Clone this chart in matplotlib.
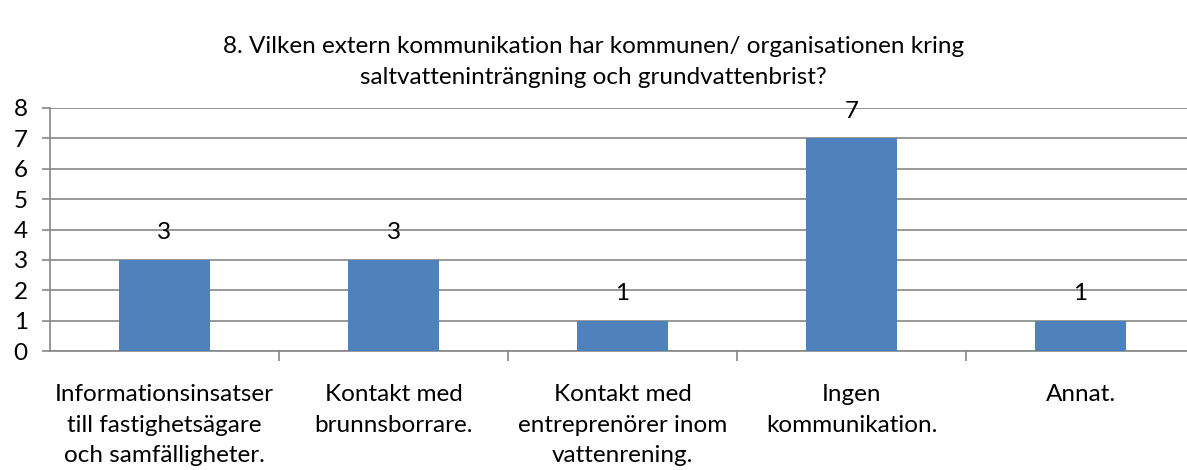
import matplotlib
matplotlib.use("Agg")
import matplotlib.pyplot as plt

categories = ["Informationsinsatser\ntill fastighetsägare\noch samfälligheter.",
              "Kontakt med\nbrunnsborrare.",
              "Kontakt med\nentreprenörer inom\nvattenrening.",
              "Ingen\nkommunikation.",
              "Annat."]
values = [3, 3, 1, 7, 1]
yticks = [0, 1, 2, 3, 4, 5, 6, 7, 8]
title = "8. Vilken extern kommunikation har kommunen/ organisationen kring\nsaltvatteninträngning och grundvattenbrist?"

plt.rcParams['font.family'] = ['Lato', 'DejaVu Sans']
FS = 17.5
W, H = 1187, 470
fig = plt.figure(figsize=(W / 100, H / 100), dpi=100)
left, right, top, bottom = 50, 1195, 108, 351
ax = fig.add_axes([left / W, 1 - bottom / H, (right - left) / W, (bottom - top) / H])

x = list(range(len(values)))
ax.bar(x, values, width=0.4, color="#4F81BD", zorder=3)
ax.set_xlim(-0.5, len(values) - 0.5)
ax.set_ylim(0, 8)
ax.set_yticks(yticks)
ax.set_yticklabels([str(v) for v in yticks], fontsize=FS)
ax.yaxis.grid(True, color="#868686", linewidth=1.2, zorder=0)
ax.tick_params(axis='y', length=6, color="#868686", width=1.2, pad=10)
ax.set_xticks([i + 0.5 for i in x[:-1]])
ax.set_xticklabels([])
ax.tick_params(axis='x', length=7, color="#868686", width=1.2, direction='out')
for s in ["top", "right"]:
    ax.spines[s].set_visible(False)
ax.spines["left"].set_color("#868686")
ax.spines["bottom"].set_color("#868686")
ax.spines["left"].set_linewidth(1.2)
ax.spines["bottom"].set_linewidth(1.2)

for i, v in enumerate(values):
    ax.annotate(str(v), (i, v), xytext=(0, 27), textcoords="offset pixels",
                ha="center", va="center", fontsize=FS)

for i, c in enumerate(categories):
    ax.annotate(c, (i, 0), xycoords=("data", "data"), xytext=(0, -33),
                textcoords="offset pixels", ha="center", va="top",
                fontsize=FS, linespacing=1.56)

fig.text(0.5, 1 - 36 / H, title, ha="center", va="top", fontsize=FS, linespacing=1.56)

fig.savefig("out.png", dpi=100)
